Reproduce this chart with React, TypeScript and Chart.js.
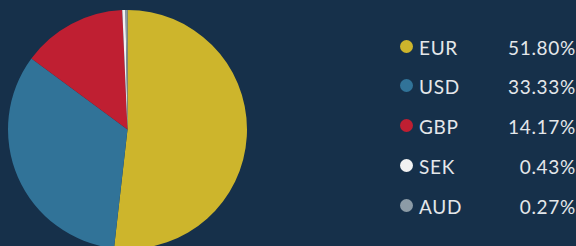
import React, { useEffect, useRef } from "react";
import { Chart, registerables } from "chart.js";

Chart.register(...registerables);

const currencies = ["EUR", "USD", "GBP", "SEK", "AUD"];
const shares = [51.8, 33.33, 14.17, 0.43, 0.27];
const shareLabels = ["51.80%", "33.33%", "14.17%", "0.43%", "0.27%"];
const colors = ["#cdb52c", "#317398", "#bf1f32", "#f2f2f2", "#8c9ba6"];

const BG = "#16304a";

export default function App() {
  const ref = useRef<HTMLCanvasElement | null>(null);

  useEffect(() => {
    document.body.style.margin = "0";
    const canvas = ref.current;
    if (!canvas) return;
    const chart = new Chart(canvas, {
      type: "pie",
      data: {
        labels: currencies,
        datasets: [
          {
            data: shares,
            backgroundColor: colors,
            borderWidth: 0,
          },
        ],
      },
      options: {
        responsive: false,
        animation: false,
        layout: { padding: { left: 8, right: 8, top: 10, bottom: 10 } },
        plugins: {
          legend: { display: false },
          tooltip: { enabled: false },
        },
      },
    });
    return () => chart.destroy();
  }, []);

  const textStyle: React.CSSProperties = {
    position: "absolute",
    height: 24,
    lineHeight: "24px",
    fontSize: 19,
    fontWeight: 400,
    letterSpacing: 0.7,
    color: "#e4e7ea",
    whiteSpace: "nowrap",
  };

  return (
    <div
      style={{
        position: "absolute",
        left: 0,
        top: 0,
        width: 576,
        height: 246,
        overflow: "hidden",
        background: BG,
        fontFamily: "Lato, 'Open Sans', sans-serif",
      }}
    >
      <canvas
        ref={ref}
        width={255}
        height={259}
        style={{ position: "absolute", left: 0, top: 0, width: 255, height: 259 }}
      />
      {currencies.map((c, i) => {
        const cy = 46 + i * 39.8;
        return (
          <React.Fragment key={c}>
            <div
              style={{
                position: "absolute",
                left: 400,
                top: cy - 6.5,
                width: 13,
                height: 13,
                borderRadius: "50%",
                background: colors[i],
              }}
            />
            <div style={{ ...textStyle, left: 419, top: cy - 10.5 }}>{c}</div>
            <div style={{ ...textStyle, right: 0, top: cy - 10.5, textAlign: "right" }}>
              {shareLabels[i]}
            </div>
          </React.Fragment>
        );
      })}
    </div>
  );
}
